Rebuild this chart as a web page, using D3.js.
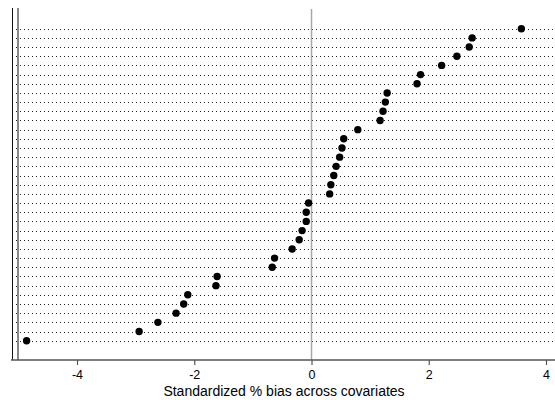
<!doctype html>
<html lang="en">
  <head>
    <meta charset="utf-8">
    <title>Standardized % bias dot plot</title>
    <script src="https://d3js.org/d3.v7.min.js"></script>
    <style>
      body { margin: 0; background: #fff; }
      svg { display: block; font-family: Arial, "Liberation Sans", sans-serif; }
    </style>
  </head>
  <body>
    <div class="visual"></div>
  <script>
    // covariates, top row first (labels are not shown in the chart)
    const covariates = d3.range(1, 36).map(i => 'x' + i);
    // standardized % bias per covariate, same order
    const bias = [3.58, 2.74, 2.69, 2.48, 2.22, 1.86, 1.80, 1.29, 1.26, 1.22,
                  1.17, 0.79, 0.55, 0.52, 0.48, 0.42, 0.38, 0.33, 0.31, -0.05,
                  -0.09, -0.09, -0.16, -0.21, -0.33, -0.63, -0.67, -1.61, -1.63, -2.11,
                  -2.18, -2.31, -2.62, -2.94, -4.86];
    const xTicks = [-4, -2, 0, 2, 4];
    const xTitle = 'Standardized % bias across covariates';

    const w = 555, h = 400;
    const margin = {top: 8, right: 0, bottom: 40, left: 12};

    const svg = d3.select('.visual')
      .append('svg')
      .attr('width', w)
      .attr('height', h);

    const x = d3.scaleLinear()
      .domain([-4, 4])
      .range([77, 546]);

    const y = d3.scalePoint()
      .domain(covariates)
      .range([28.7, 340.7]);

    const axisY = h - margin.bottom;

    // dotted row lines
    svg.append('g')
      .selectAll('line')
      .data(covariates)
      .enter().append('line')
        .attr('x1', margin.left)
        .attr('x2', w)
        .attr('y1', d => Math.round(y(d)) + 0.5)
        .attr('y2', d => Math.round(y(d)) + 0.5)
        .attr('stroke', '#222')
        .attr('stroke-width', 1)
        .attr('stroke-dasharray', '1,3');

    // zero reference line
    svg.append('line')
      .attr('x1', x(0)).attr('x2', x(0))
      .attr('y1', margin.top + 1).attr('y2', axisY)
      .attr('stroke', '#a8a8a8')
      .attr('stroke-width', 1.5);

    // left axis lines
    [12.5, 18].forEach(px => {
      svg.append('line')
        .attr('x1', px).attr('x2', px)
        .attr('y1', margin.top).attr('y2', axisY)
        .attr('stroke', '#111')
        .attr('stroke-width', 1);
    });

    // x axis
    const gx = svg.append('g')
      .attr('transform', 'translate(0,' + axisY + ')')
      .call(d3.axisBottom(x)
        .tickValues(xTicks)
        .tickSize(5)
        .tickPadding(5)
        .tickFormat(d => String(d)));
    gx.select('.domain').remove();
    gx.insert('line', ':first-child')
      .attr('x1', 11).attr('x2', w)
      .attr('stroke', '#555')
      .attr('stroke-width', 1.5);
    gx.selectAll('.tick line').attr('stroke', '#555').attr('stroke-width', 1.2);
    gx.selectAll('.tick text')
      .attr('font-size', '12.5px')
      .attr('font-family', 'Arial, "Liberation Sans", sans-serif')
      .attr('fill', '#000');

    svg.append('text')
      .attr('x', 284)
      .attr('y', 395.5)
      .attr('text-anchor', 'middle')
      .attr('font-size', '14px')
      .attr('fill', '#000')
      .text(xTitle);

    // markers
    svg.append('g')
      .selectAll('circle')
      .data(bias)
      .enter().append('circle')
        .attr('cx', d => x(d))
        .attr('cy', (d, i) => y(covariates[i]))
        .attr('r', 3.7)
        .attr('fill', '#000');
  </script>
  </body>
</html>
